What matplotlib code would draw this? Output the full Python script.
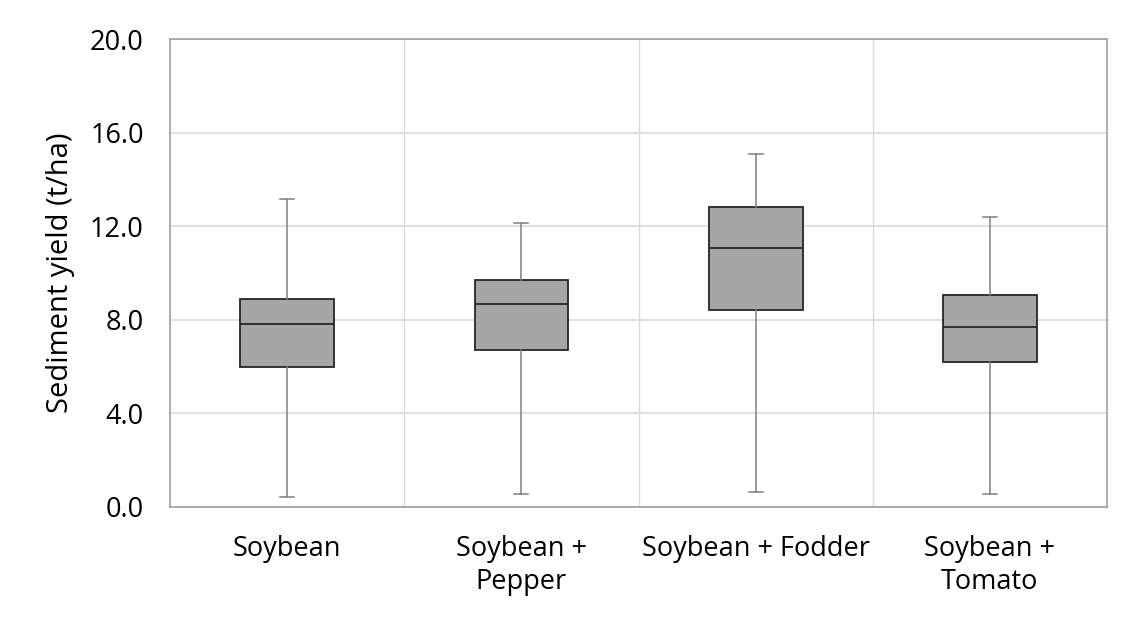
import matplotlib
matplotlib.use("Agg")
import matplotlib.pyplot as plt

# box-plot summaries per cropping system (t/ha)
labels = ["Soybean", "Soybean +\nPepper", "Soybean + Fodder", "Soybean +\nTomato"]
whisker_low = [0.44, 0.56, 0.65, 0.56]
q1 = [5.98, 6.69, 8.40, 6.21]
median = [7.80, 8.67, 11.07, 7.69]
q3 = [8.90, 9.72, 12.84, 9.05]
whisker_high = [13.17, 12.13, 15.09, 12.40]

plt.rcParams["font.family"] = ["Open Sans", "DejaVu Sans"]

stats = []
for i in range(len(labels)):
    stats.append({
        "whislo": whisker_low[i], "q1": q1[i], "med": median[i],
        "q3": q3[i], "whishi": whisker_high[i], "fliers": [], "label": labels[i],
    })

fig = plt.figure(figsize=(11.23, 6.2), dpi=100)
ax = fig.add_axes([0.1514, 0.1823, 0.8344, 0.7547])

positions = [1, 2, 3, 4]
ax.bxp(stats, positions=positions, widths=0.4, patch_artist=True, showfliers=False,
       boxprops=dict(facecolor="#a6a6a6", edgecolor="#262626", linewidth=1.3),
       medianprops=dict(color="#262626", linewidth=1.3),
       whiskerprops=dict(color="#7f7f7f", linewidth=1.1),
       capprops=dict(color="#7f7f7f", linewidth=1.1),
       capwidths=0.06, zorder=3)

ax.set_xlim(0.5, 4.5)
ax.set_ylim(0, 20)
ax.set_yticks([0, 4, 8, 12, 16, 20])
ax.set_yticklabels([f"{v:.1f}" for v in [0, 4, 8, 12, 16, 20]])
ax.set_xticks(positions)
ax.set_xticklabels(labels, linespacing=1.25)

# category separators and value gridlines
for x in [1.5, 2.5, 3.5]:
    ax.axvline(x, color="#d9d9d9", linewidth=1, zorder=0)
ax.yaxis.grid(True, color="#d9d9d9", linewidth=1.2, zorder=0)
ax.set_axisbelow(True)

for s in ax.spines.values():
    s.set_color("#a0a0a0")
    s.set_linewidth(1.2)

ax.tick_params(axis="both", length=0, labelsize=19.5, colors="black")
ax.tick_params(axis="y", pad=19)
ax.tick_params(axis="x", pad=20)
ax.set_ylabel("Sediment yield (t/ha)", fontsize=21, labelpad=11)

fig.savefig("out.png", dpi=100)
